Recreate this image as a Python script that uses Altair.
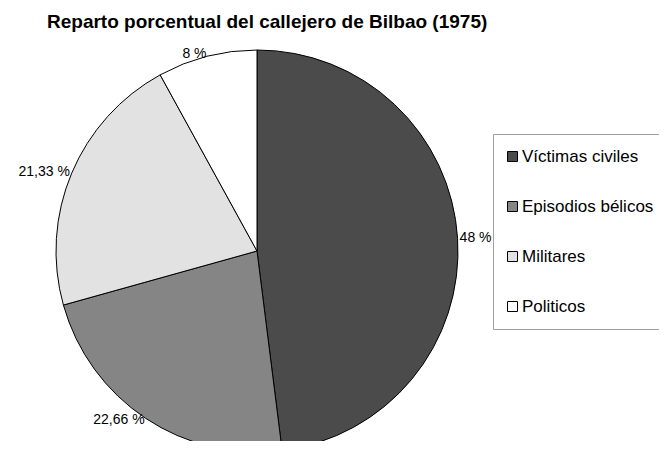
import altair as alt
import pandas as pd

categories = ["Víctimas civiles", "Episodios bélicos", "Militares", "Politicos"]
values = [48, 22.66, 21.33, 8]
labels = ["48 %", "22,66 %", "21,33 %", "8 %"]
colors = ["#4b4b4b", "#858585", "#e2e2e2", "#ffffff"]

df = pd.DataFrame({"cat": categories, "val": values, "label": labels, "order": list(range(len(categories)))})
total = sum(values)

W, H = 651, 403
PAD_TOP = 30
CX, CY = 249, 213
R = 201
FONT = "Liberation Sans"

theta_scale = alt.Scale(domain=[0, total])

pie = alt.Chart(df).mark_arc(outerRadius=R, stroke="black", strokeWidth=1).encode(
    theta=alt.Theta("val:Q", stack=True, scale=theta_scale),
    order=alt.Order("order:Q"),
    x=alt.value(CX),
    y=alt.value(CY),
    color=alt.Color(
        "cat:N",
        scale=alt.Scale(domain=categories, range=colors),
        sort=categories,
        legend=alt.Legend(
            orient="none", legendX=485, legendY=96, title=None,
            strokeColor="#a0a0a0", fillColor="white", padding=14, rowPadding=32,
            symbolType="square", symbolSize=100, symbolStrokeColor="black",
            symbolStrokeWidth=1, symbolOpacity=1, symbolOffset=-3,
            labelFont=FONT, labelFontSize=17, labelColor="black", labelOffset=1,
            labelLimit=300,
        ),
    ),
)

text_base = alt.Chart(df).transform_window(
    cum="sum(val)", sort=[alt.SortField("order")], frame=[None, 0]
).transform_calculate(mid="datum.cum - datum.val / 2")

def label_layer(cond, align):
    return text_base.transform_filter(cond).mark_text(
        radius=203, align=align, baseline="middle", font=FONT, fontSize=14, color="black"
    ).encode(
        theta=alt.Theta("mid:Q", scale=theta_scale),
        x=alt.value(CX),
        y=alt.value(CY),
        text="label:N",
    )

right = label_layer(f"datum.mid < {total / 2}", "left")
left = label_layer(f"datum.mid >= {total / 2}", "right")

chart = alt.layer(pie, right, left).properties(
    width=W, height=H,
    autosize=alt.AutoSizeParams(type="none"),
    padding={"left": 0, "top": PAD_TOP, "right": 0, "bottom": 0},
    background="white",
    title=alt.TitleParams(
        text="Reparto porcentual del callejero de Bilbao (1975)",
        anchor="start", frame="group", font=FONT, fontSize=19, fontWeight="bold",
        color="black", dx=39, offset=6,
    ),
).configure_view(stroke="transparent", strokeWidth=0)

chart.save("out.html", embed_options={"renderer": "svg", "actions": False})
